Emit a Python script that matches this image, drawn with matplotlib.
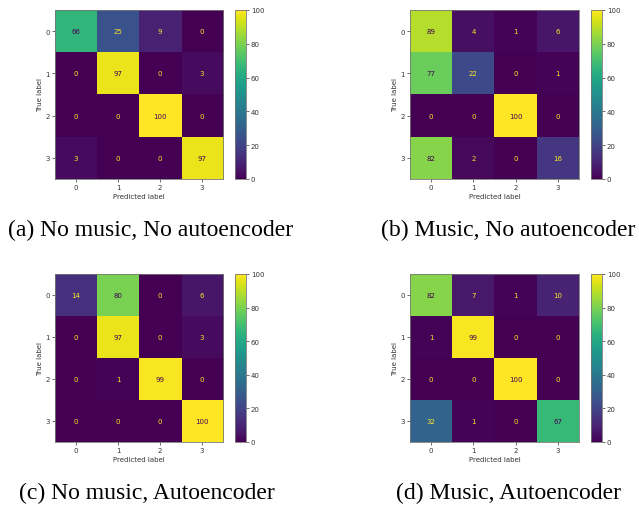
import matplotlib.pyplot as plt
import numpy as np

# Confusion matrices (percent)
labels = ["0", "1", "2", "3"]
cm_a = [[66, 25, 9, 0], [0, 97, 0, 3], [0, 0, 100, 0], [3, 0, 0, 97]]
cm_b = [[89, 4, 1, 6], [77, 22, 0, 1], [0, 0, 100, 0], [82, 2, 0, 16]]
cm_c = [[14, 80, 0, 6], [0, 97, 0, 3], [0, 1, 99, 0], [0, 0, 0, 100]]
cm_d = [[82, 7, 1, 10], [1, 99, 0, 0], [0, 0, 100, 0], [32, 1, 0, 67]]
captions = ["(a) No music, No autoencoder", "(b) Music, No autoencoder",
            "(c) No music, Autoencoder", "(d) Music, Autoencoder"]

W, H = 639, 506
fig = plt.figure(figsize=(W / 100, H / 100), dpi=100)


def px_axes(x0, y0, x1, y1):
    return fig.add_axes([x0 / W, (H - y1) / H, (x1 - x0) / W, (y1 - y0) / H])


cmap = plt.get_cmap("viridis")
# (heatmap box, colorbar box, caption position)
panels = [
    (cm_a, (55, 11, 223, 180), (235, 11, 246, 180), (151, 230)),
    (cm_b, (410, 11, 579, 180), (591, 11, 602, 180), (508, 230)),
    (cm_c, (55, 275, 223, 443), (235, 275, 246, 443), (147, 493)),
    (cm_d, (410, 275, 579, 443), (591, 275, 602, 443), (509, 493)),
]

for (cm, hb, cb, cap), text in zip(panels, captions):
    cm = np.array(cm)
    ax = px_axes(*hb)
    im = ax.imshow(cm, cmap=cmap, vmin=0, vmax=100, aspect="auto")
    thresh = (cm.max() + cm.min()) / 2
    for i in range(cm.shape[0]):
        for j in range(cm.shape[1]):
            col = cmap(0.0) if cm[i, j] >= thresh else cmap(1.0)
            ax.text(j, i, str(cm[i, j]), ha="center", va="center",
                    fontsize=5, color=col)
    ax.set_xticks(range(len(labels)))
    ax.set_yticks(range(len(labels)))
    ax.set_xticklabels(labels)
    ax.set_yticklabels(labels)
    ax.tick_params(labelsize=5, length=2, width=0.5, pad=1.5, colors="#333333")
    ax.set_xlabel("Predicted label", fontsize=5, labelpad=2, color="#333333")
    ax.set_ylabel("True label", fontsize=5, labelpad=2, color="#333333")
    for s in ax.spines.values():
        s.set_color("#777777")
        s.set_linewidth(0.6)

    cax = px_axes(*cb)
    bar = fig.colorbar(im, cax=cax, ticks=[0, 20, 40, 60, 80, 100])
    bar.ax.tick_params(labelsize=5, length=2, width=0.5, pad=1.5, colors="#333333")
    bar.outline.set_edgecolor("#777777")
    bar.outline.set_linewidth(0.6)

    fig.text(cap[0] / W, 1 - cap[1] / H, text, ha="center", va="center",
             fontsize=17, family="Liberation Serif")

fig.savefig("out.png", dpi=100)
